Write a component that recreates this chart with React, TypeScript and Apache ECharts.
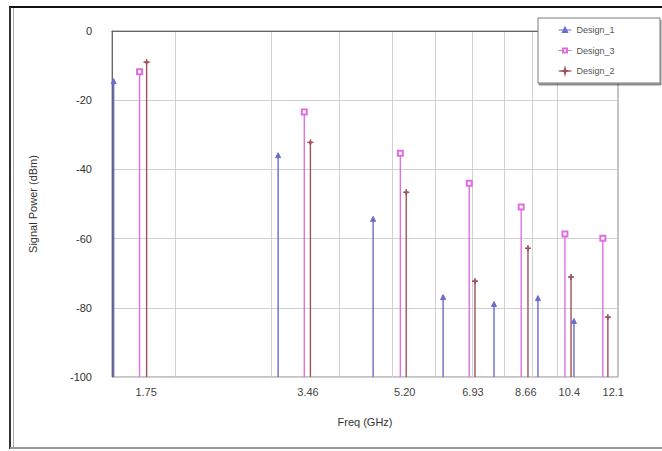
import React, { useEffect, useRef } from "react";
import * as echarts from "echarts";

// Frequencies (GHz) of each harmonic stem
const design1Freq = [1.546, 3.09, 4.61, 6.19, 7.67, 9.23, 10.74];
const design1Power = [-14.5, -35.9, -54.3, -76.9, -78.9, -77.2, -83.8];

const design3Freq = [1.724, 3.45, 5.17, 6.91, 8.60, 10.34, 12.13];
const design3Power = [-11.8, -23.4, -35.3, -44.0, -50.9, -58.7, -59.9];

const design2Freq = [1.776, 3.54, 5.30, 7.08, 8.85, 10.61, 12.39];
const design2Power = [-9.0, -32.2, -46.6, -72.3, -62.8, -71.1, -82.7];

const xTickLabels = ["1.75", "3.46", "5.20", "6.93", "8.66", "10.4", "12.1"];
const xGridFreqs = [2, 3, 4, 5, 6, 7, 8, 9, 10];
const xMinFreq = 1.535;
const xMaxFreq = 12.93;
const yTicks = [0, -20, -40, -60, -80, -100];

const COLORS = {
  Design_1: "#6b6bd0",
  Design_3: "#e06ee0",
  Design_2: "#a0525a",
};

const STAR = "path://M5,0 L6,4 L10,5 L6,6 L5,10 L4,6 L0,5 L4,4 Z";

const lg = (v: number) => Math.log10(v);

export default function App() {
  const ref = useRef<HTMLDivElement>(null);
  useEffect(() => {
    if (!ref.current) return;
    const chart = echarts.init(ref.current, undefined, { renderer: "svg" });

    const mk = (f: number[], p: number[]) => f.map((v, i) => [lg(v), p[i]]);
    const sets = [
      { name: "Design_1", data: mk(design1Freq, design1Power), symbol: "triangle", size: 5 },
      { name: "Design_3", data: mk(design3Freq, design3Power), symbol: "emptyRect", size: 5 },
      { name: "Design_2", data: mk(design2Freq, design2Power), symbol: STAR, size: 6 },
    ];

    const stemSeries = sets.map((s) => ({
      type: "custom",
      name: s.name + " stem",
      data: s.data,
      encode: { x: 0, y: 1 },
      z: 2,
      renderItem: (params: any, api: any) => {
        const x = api.value(0);
        const y = api.value(1);
        const top = api.coord([x, y]);
        const bot = api.coord([x, -100]);
        return {
          type: "line",
          shape: { x1: top[0], y1: top[1], x2: bot[0], y2: bot[1] },
          style: { stroke: (COLORS as any)[s.name], lineWidth: 1.4 },
        };
      },
    }));

    const markerSeries = sets.map((s) => ({
      type: "line",
      name: s.name,
      data: s.data,
      symbol: s.symbol,
      symbolSize: s.size,
      showSymbol: true,
      z: 3,
      itemStyle: { color: (COLORS as any)[s.name], borderColor: (COLORS as any)[s.name], borderWidth: 1 },
      lineStyle: { color: (COLORS as any)[s.name], width: 0, opacity: 0 },
    }));

    const labelVals = xTickLabels.map((t) => lg(parseFloat(t)));

    chart.setOption({
      animation: false,
      backgroundColor: "#ffffff",
      textStyle: { fontFamily: "Liberation Sans, Arial, sans-serif" },
      grid: {
        left: 112,
        top: 31,
        right: 44,
        bottom: 74,
        show: true,
        borderColor: "#8a8a8a",
        borderWidth: 1,
        backgroundColor: "transparent",
      },
      xAxis: {
        type: "value",
        min: lg(xMinFreq),
        max: lg(xMaxFreq),
        name: "Freq (GHz)",
        nameLocation: "middle",
        nameGap: 39,
        nameTextStyle: { fontSize: 11, color: "#333" },
        axisLine: { show: true, lineStyle: { color: "#666", width: 1 } },
        axisTick: { show: false, customValues: xGridFreqs.map(lg) },
        axisLabel: {
          customValues: labelVals,
          fontSize: 11,
          color: "#444",
          margin: 9,
          padding: [0, 0, 0, 6],
          rich: { last: { fontSize: 11, color: "#444", padding: [0, 0, 0, 16] } },
          formatter: (v: number) => {
            let best = 0;
            let bd = Infinity;
            labelVals.forEach((lv, i) => {
              const d = Math.abs(lv - v);
              if (d < bd) {
                bd = d;
                best = i;
              }
            });
            const t = xTickLabels[best];
            return best === xTickLabels.length - 1 ? "{last|" + t + "}" : t;
          },
        },
        splitLine: { show: true, lineStyle: { color: "#d0d0d0", width: 1 } },
      },
      yAxis: {
        type: "value",
        min: -100,
        max: 0,
        interval: 20,
        name: "Signal Power (dBm)",
        nameLocation: "middle",
        nameGap: 74,
        nameTextStyle: { fontSize: 11, color: "#333" },
        axisLine: { show: true, lineStyle: { color: "#666", width: 1 } },
        axisTick: { show: false },
        axisLabel: {
          fontSize: 11,
          color: "#333",
          margin: 20,
          formatter: (v: number) => (yTicks.includes(v) ? String(v) : ""),
        },
        splitLine: { show: true, lineStyle: { color: "#d0d0d0", width: 1 } },
      },
      legend: {
        data: ["Design_1", "Design_3", "Design_2"],
        orient: "vertical",
        left: 558,
        top: 24.5,
        padding: 0,
        itemWidth: 13,
        itemHeight: 5,
        itemGap: 9.5,
        z: 10,
        textStyle: { fontSize: 9, color: "#555", lineHeight: 11 },
        lineStyle: { width: 1, opacity: 1 },
      },
      graphic: [
        {
          type: "rect",
          z: 5,
          shape: { x: 538, y: 18, width: 122, height: 65 },
          style: {
            fill: "#ffffff",
            stroke: "#7a7a7a",
            lineWidth: 1,
            shadowColor: "rgba(0,0,0,0.45)",
            shadowOffsetX: 1,
            shadowOffsetY: 2,
            shadowBlur: 1,
          },
        },
        {
          type: "line",
          z: 20,
          shape: { x1: 9, y1: 7, x2: 662, y2: 7 },
          style: { stroke: "#111", lineWidth: 2 },
        },
        {
          type: "line",
          z: 20,
          shape: { x1: 10, y1: 7, x2: 10, y2: 449 },
          style: { stroke: "#333", lineWidth: 2 },
        },
        {
          type: "line",
          z: 20,
          shape: { x1: 13.5, y1: 8, x2: 13.5, y2: 447 },
          style: { stroke: "#aaa", lineWidth: 1 },
        },
        {
          type: "line",
          z: 20,
          shape: { x1: 10, y1: 448, x2: 662, y2: 448 },
          style: { stroke: "#999", lineWidth: 2 },
        },
      ],
      series: [...stemSeries, ...markerSeries],
    });

    return () => chart.dispose();
  }, []);

  return <div ref={ref} style={{ width: 662, height: 451, position: "absolute", left: 0, top: 0 }} />;
}
